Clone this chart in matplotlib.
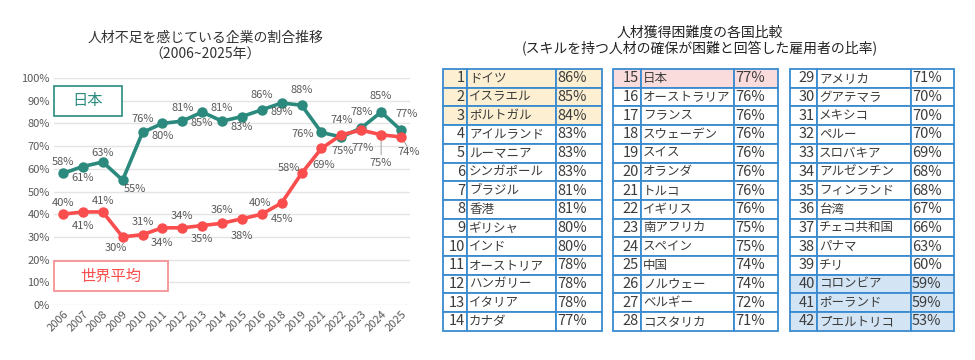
import matplotlib
matplotlib.use('Agg')
import matplotlib.pyplot as plt
from matplotlib.patches import Rectangle

plt.rcParams['font.family'] = ['Noto Sans CJK JP', 'DejaVu Sans']

# left chart data
years = ['2006', '2007', '2008', '2009', '2010', '2011', '2012', '2013', '2014',
         '2015', '2016', '2018', '2019', '2021', '2022', '2023', '2024', '2025']
japan = [58, 61, 63, 55, 76, 80, 81, 85, 81, 83, 86, 89, 88, 76, 74, 78, 85, 77]
world = [40, 41, 41, 30, 31, 34, 34, 35, 36, 38, 40, 45, 58, 69, 75, 77, 75, 74]

# right tables data
countries = ['ドイツ', 'イスラエル', 'ポルトガル', 'アイルランド', 'ルーマニア', 'シンガポール',
             'ブラジル', '香港', 'ギリシャ', 'インド', 'オーストリア', 'ハンガリー', 'イタリア', 'カナダ',
             '日本', 'オーストラリア', 'フランス', 'スウェーデン', 'スイス', 'オランダ', 'トルコ',
             'イギリス', '南アフリカ', 'スペイン', '中国', 'ノルウェー', 'ベルギー', 'コスタリカ',
             'アメリカ', 'グアテマラ', 'メキシコ', 'ペルー', 'スロバキア', 'アルゼンチン', 'フィンランド',
             '台湾', 'チェコ共和国', 'パナマ', 'チリ', 'コロンビア', 'ポーランド', 'プエルトリコ']
shares = [86, 85, 84, 83, 83, 83, 81, 81, 80, 80, 78, 78, 78, 77,
          77, 76, 76, 76, 76, 76, 76, 76, 75, 75, 74, 74, 72, 71,
          71, 70, 70, 70, 69, 68, 68, 67, 66, 63, 60, 59, 59, 53]

TEAL = '#2b8a7d'
RED = '#fa4d4d'
GRAY = '#595959'

fig = plt.figure(figsize=(9.75, 3.6), dpi=100)

# ---- line chart ----
ax = fig.add_axes([54/975, 1 - 305/360, 356/975, 227/360])
x = list(range(len(years)))
ax.plot(x, japan, color=TEAL, lw=2.6, marker='o', ms=6.5, zorder=3)
ax.plot(x, world, color=RED, lw=2.6, marker='o', ms=6.5, zorder=4)
ax.set_xlim(-0.45, len(years) - 0.55)
ax.set_ylim(0, 100)
ax.set_yticks(range(0, 101, 10))
ax.set_yticklabels([f'{v}%' for v in range(0, 101, 10)], fontsize=8, color=GRAY)
ax.set_xticks(x)
ax.set_xticklabels(years, rotation=45, ha='right', rotation_mode='anchor',
                   fontsize=8, color=GRAY)
ax.tick_params(length=0, pad=3)
ax.grid(axis='y', color='#e4e4e4', lw=1)
ax.set_axisbelow(True)
for s in ax.spines.values():
    s.set_visible(False)

# label offsets in pixels (dx, dy)
jp_off = [(0, 11), (0, -11), (0, 9), (12, -9), (0, 13), (0, -13), (0, 13), (0, -11),
          (0, 13), (0, -10), (0, 15), (0, -9), (0, 15), (-19, -2), (0, 17), (0, 16),
          (0, 16), (6, 16)]
wd_off = [(0, 11), (0, -14), (0, 11), (-7, -11), (0, 13), (0, -15), (0, 12), (0, -13),
          (0, 13), (0, -17), (-2, 11), (0, -16), (-13, 5), (2, -17), (1, -16), (1, -18),
          (-1, -28), (8, -15)]
for i in x:
    ax.annotate(f'{japan[i]}%', (i, japan[i]), xytext=jp_off[i], textcoords='offset pixels',
                ha='center', va='center', fontsize=8, color=GRAY, zorder=6)
    ax.annotate(f'{world[i]}%', (i, world[i]), xytext=wd_off[i], textcoords='offset pixels',
                ha='center', va='center', fontsize=8, color=GRAY, zorder=6)
# leader lines for crowded labels
for i, dx, dy in [(16, 0, -20), (17, 6, -9)]:
    ax.annotate('', (i, world[i]), xytext=(dx, dy), textcoords='offset pixels',
                arrowprops=dict(arrowstyle='-', color='#aaaaaa', lw=0.8,
                                shrinkA=0, shrinkB=4), zorder=2)

fig.text(205/975, 1 - 38/360, '人材不足を感じている企業の割合推移', ha='center', va='center',
         fontsize=10, color='#333333')
fig.text(205/975, 1 - 55/360, '（2006~2025年）', ha='center', va='center',
         fontsize=10, color='#333333')

# ---- overlay in pixel coords ----
ov = fig.add_axes([0, 0, 1, 1])
ov.set_xlim(0, 975)
ov.set_ylim(360, 0)
ov.axis('off')

ov.add_patch(Rectangle((54, 86), 68, 30, fc='white', ec=TEAL, lw=1.2, zorder=5))
ov.text(88, 101, '日本', ha='center', va='center', fontsize=11, color=TEAL, zorder=6)
ov.add_patch(Rectangle((54, 261), 114, 30, fc='white', ec='#f58a8a', lw=1.2, zorder=5))
ov.text(111, 276, '世界平均', ha='center', va='center', fontsize=11, color=RED, zorder=6)

fig.text(700/975, 1 - 33/360, '人材獲得困難度の各国比較', ha='center', va='center',
         fontsize=10, color='#222222')
fig.text(700/975, 1 - 49/360, '(スキルを持つ人材の確保が困難と回答した雇用者の比率)',
         ha='center', va='center', fontsize=10, color='#222222')

# table columns: left, number divider, pct divider, right
cols = [(443, 467, 556, 602), (613, 641, 734, 778), (790, 817, 911, 954)]
top, rh, per = 69, 18.7, 14
BLUE = '#3a8bd0'
TXT = '#3c3c3c'
for k, name in enumerate(countries):
    c, r = divmod(k, per)
    l, d1, d2, rr = cols[c]
    y0 = top + r * rh
    rank = k + 1
    if rank <= 3:
        fc = '#fdf0d2'
    elif name == '日本':
        fc = '#fbdcdc'
    elif rank >= 40:
        fc = '#d3e5f5'
    else:
        fc = 'white'
    for a, b in [(l, d1), (d1, d2), (d2, rr)]:
        ov.add_patch(Rectangle((a, y0), b - a, rh, fc=fc, ec=BLUE, lw=1.3))
    ov.text(d1 - 2, y0 + rh / 2, str(rank), ha='right', va='center', fontsize=10.5, color=TXT)
    ov.text(d1 + 2, y0 + rh / 2, name, ha='left', va='center', fontsize=9, color=TXT)
    ov.text(d2 + 1, y0 + rh / 2, f'{shares[k]}%', ha='left', va='center', fontsize=10.5, color=TXT)

plt.savefig('out.png', dpi=100)
